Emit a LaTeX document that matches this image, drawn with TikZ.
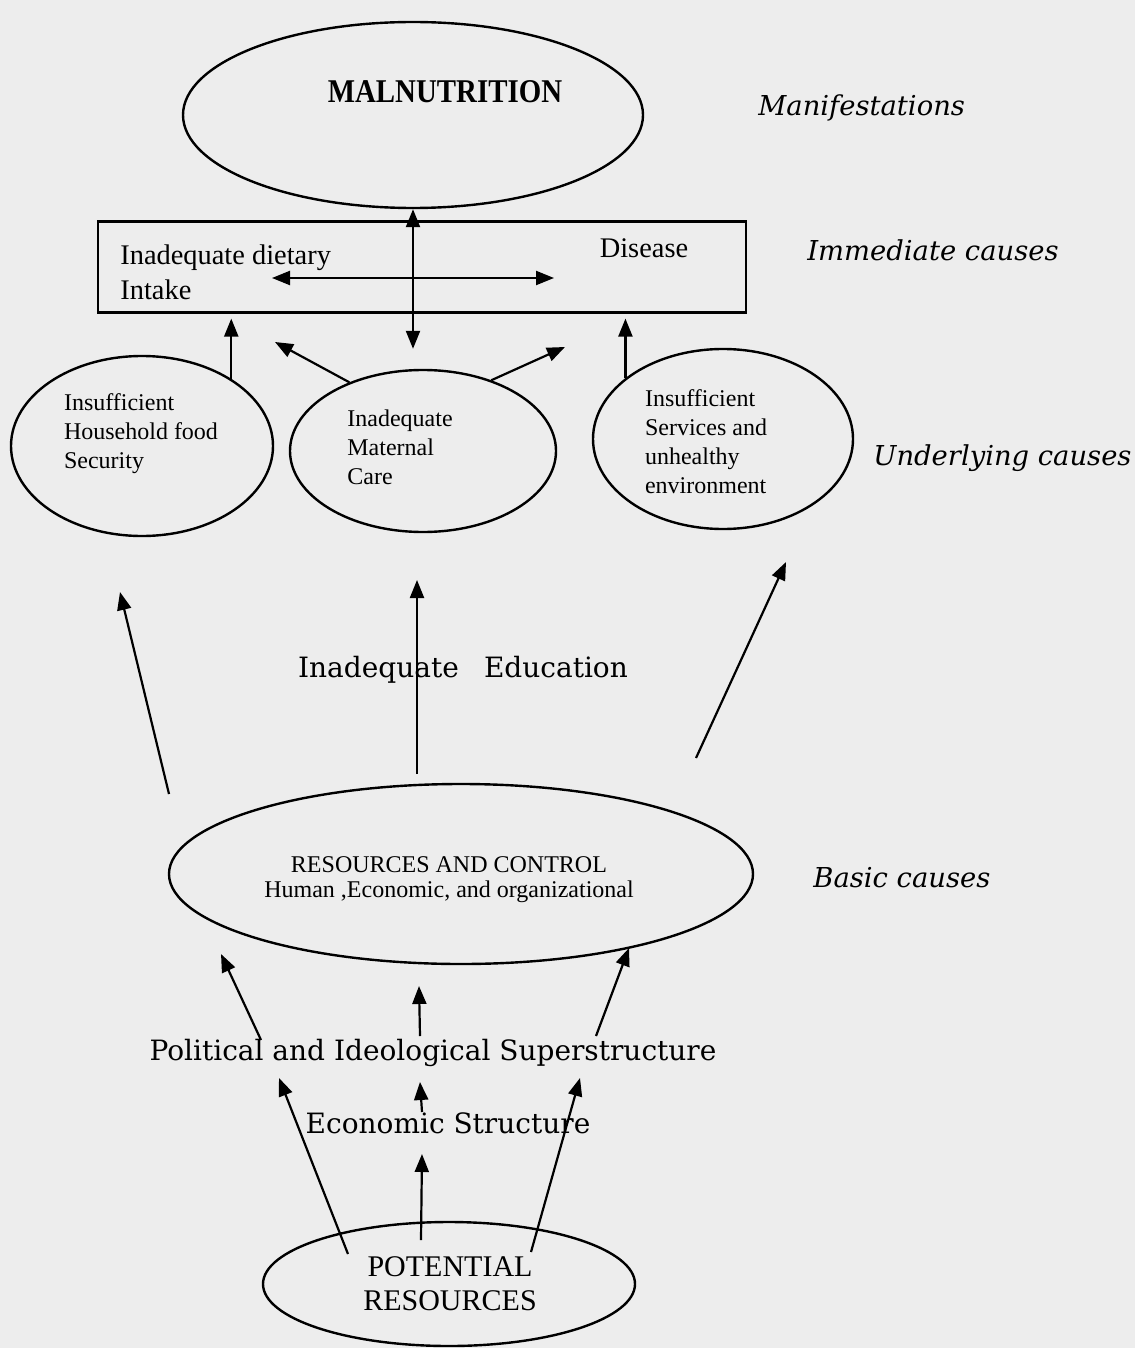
\documentclass[tikz,border=0pt]{standalone}
\usepackage{fontspec}
\setmainfont{Liberation Serif}
\newfontfamily\bookfont{DejaVu Serif}
\newfontfamily\malnfont{Liberation Serif}[FakeStretch=0.87]
\usetikzlibrary{positioning, arrows.meta, shapes.geometric}

\tikzset{
  oval/.style={ellipse, draw, line width=1.2pt, inner sep=0pt},
  cause/.style={-{Triangle[length=9pt,width=7pt]}, line width=1.1pt},
  mutual/.style={{Triangle[length=9pt,width=7pt]}-{Triangle[length=9pt,width=7pt]}, line width=1.1pt},
  level/.style={font=\bookfont\itshape\fontsize{13.7}{16}\selectfont, anchor=west, inner sep=0pt},
  ovaltext/.style={align=left, font=\fontsize{12}{14.5}\selectfont, inner sep=0pt},
  struct/.style={font=\bookfont\fontsize{14}{16}\selectfont, inner sep=0pt},
}

\begin{document}
\begin{tikzpicture}[x=0.5pt, y=-0.5pt]
  \fill[black!7] (0,0) rectangle (1135,1348);
  \useasboundingbox (0,0) rectangle (1135,1348);

  % manifestations
  \node[oval, minimum width=230pt, minimum height=93pt] (maln) at (413,115) {};
  \node[font=\malnfont\bfseries\fontsize{16.6}{18}\selectfont, inner sep=0pt] (malntxt) at (445,92) {MALNUTRITION};
  \node[level] (lman) at (758,108) {Manifestations};

  % immediate causes
  \node[draw, line width=1.1pt, minimum width=324pt, minimum height=45.5pt, inner sep=0pt] (imm) at (422,267) {};
  \node[ovaltext, font=\fontsize{14.2}{17.5}\selectfont, anchor=west] (diet) at (120,272) {Inadequate dietary\\Intake};
  \node[font=\fontsize{14.2}{17}\selectfont, inner sep=0pt] (dis) at (644,248) {Disease};
  \node[level] (limm) at (807,250) {Immediate causes};

  % underlying causes
  \node[oval, minimum width=131pt, minimum height=90pt] (hfs) at (142,446) {};
  \node[ovaltext] (hfstxt) at (141,434) {Insufficient\\Household food\\Security};
  \node[oval, minimum width=133pt, minimum height=81pt] (mat) at (423,451) {};
  \node[ovaltext] (mattxt) at (400,447) {Inadequate\\Maternal\\Care};
  \node[oval, minimum width=130pt, minimum height=90pt] (svc) at (723,439) {};
  \node[ovaltext] (svctxt) at (706,442) {Insufficient\\Services and\\unhealthy\\environment};
  \node[level] (lund) at (873,458) {Underlying causes};

  \node[struct] (edu) at (463,670) {Inadequate\hspace{0.9em}Education};

  % basic causes
  \node[oval, minimum width=292pt, minimum height=90pt] (res) at (461,874) {};
  \node[align=center, font=\fontsize{12}{12.5}\selectfont, inner sep=0pt] (restxt) at (449,880) {RESOURCES AND CONTROL\\Human ,Economic, and organizational};
  \node[level] (lbas) at (813,878) {Basic causes};

  \node[struct] (pol) at (433,1053) {Political and Ideological Superstructure};
  \node[struct] (eco) at (448,1123) {Economic Structure};

  \node[oval, minimum width=186pt, minimum height=62pt] (pot) at (449,1284) {};
  \node[align=center, font=\fontsize{15}{17}\selectfont, inner sep=0pt] (pottxt) at (450,1284) {POTENTIAL\\RESOURCES};

  % free arrow ends
  \coordinate (dl) at (272,278);  \coordinate (dr) at (554,278);
  \coordinate (ml) at (275,342);  \coordinate (mr) at (565,347);
  \coordinate (g1) at (169,794);  \coordinate (g2) at (120,592);
  \coordinate (h1) at (417,774);  \coordinate (h2) at (417,580);
  \coordinate (i1) at (696,758);  \coordinate (i2) at (786,562);
  \coordinate (j1) at (261,1040); \coordinate (j2) at (221,954);
  \coordinate (k1) at (420,1036); \coordinate (k2) at (419,986);
  \coordinate (l1) at (596,1036); \coordinate (l2) at (629,948);
  \coordinate (p1) at (348,1254); \coordinate (p2) at (279,1078);
  \coordinate (q1) at (531,1252); \coordinate (q2) at (580,1078);
  \coordinate (r1) at (422,1112); \coordinate (r2) at (420,1082);
  \coordinate (s1) at (421,1240); \coordinate (s2) at (422,1154);

  % connectors
  \draw[mutual, shorten >=10pt] (maln.south) -- (maln.south |- mat.north);
  \draw[mutual] (dl) -- (dr);
  \draw[cause, shorten >=2.5pt] (hfs.37) -- (hfs.37 |- imm.south);
  \draw[cause] (mat.137) -- (ml);
  \draw[cause] (mat.46) -- (mr);
  \draw[cause, shorten >=2.5pt] (svc.148) -- (svc.148 |- imm.south);

  \draw[cause] (g1) -- (g2);
  \draw[cause] (h1) -- (h2);
  \draw[cause] (i1) -- (i2);

  \draw[cause] (j1) -- (j2);
  \draw[cause] (k1) -- (k2);
  \draw[cause] (l1) -- (l2);

  \draw[cause] (p1) -- (p2);
  \draw[cause] (q1) -- (q2);
  \draw[cause] (r1) -- (r2);
  \draw[cause] (s1) -- (s2);
\end{tikzpicture}
\end{document}
